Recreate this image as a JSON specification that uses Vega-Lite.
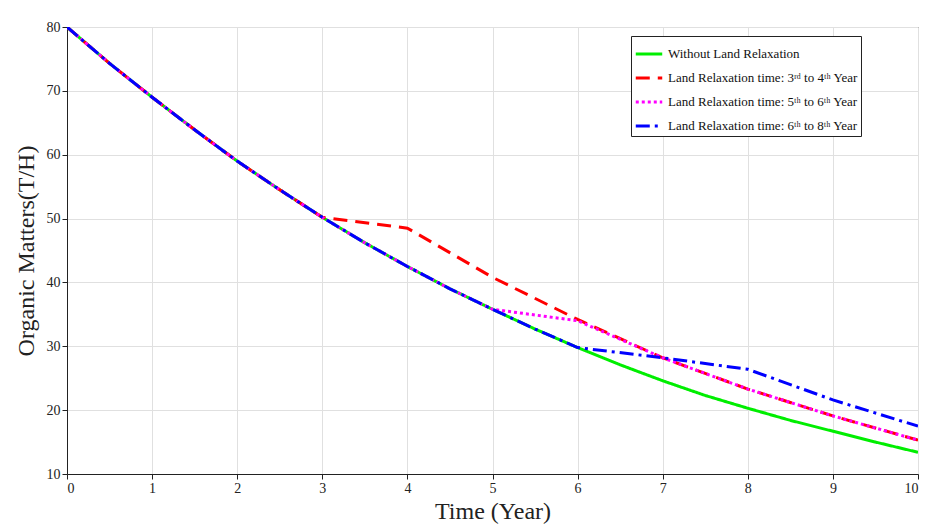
{
  "$schema": "https://vega.github.io/schema/vega-lite/v6.json",
  "width": 851,
  "height": 447,
  "autosize": {"type": "none"},
  "padding": {"left": 67, "top": 27, "right": 29, "bottom": 56},
  "background": "white",
  "config": {
    "view": {"stroke": "#222"},
    "font": "Liberation Serif",
    "axis": {"gridColor": "#e0e0e0", "domainColor": "#222", "tickColor": "#222", "labelFont": "Liberation Serif", "labelFontSize": 14, "labelColor": "#222", "titleFont": "Liberation Serif", "titleFontSize": 24, "titleFontWeight": "normal", "titleColor": "#222", "labelOverlap": false}
  },
  "data": {"values": [
    {"t": 0, "v": 80, "s": "Without Land Relaxation"},
    {"t": 0.5, "v": 74.3, "s": "Without Land Relaxation"},
    {"t": 1, "v": 69, "s": "Without Land Relaxation"},
    {"t": 1.5, "v": 63.9, "s": "Without Land Relaxation"},
    {"t": 2, "v": 59, "s": "Without Land Relaxation"},
    {"t": 2.5, "v": 54.5, "s": "Without Land Relaxation"},
    {"t": 3, "v": 50.2, "s": "Without Land Relaxation"},
    {"t": 3.5, "v": 46.2, "s": "Without Land Relaxation"},
    {"t": 4, "v": 42.5, "s": "Without Land Relaxation"},
    {"t": 4.5, "v": 39, "s": "Without Land Relaxation"},
    {"t": 5, "v": 35.8, "s": "Without Land Relaxation"},
    {"t": 5.5, "v": 32.7, "s": "Without Land Relaxation"},
    {"t": 6, "v": 29.8, "s": "Without Land Relaxation"},
    {"t": 6.5, "v": 27.1, "s": "Without Land Relaxation"},
    {"t": 7, "v": 24.6, "s": "Without Land Relaxation"},
    {"t": 7.5, "v": 22.3, "s": "Without Land Relaxation"},
    {"t": 8, "v": 20.3, "s": "Without Land Relaxation"},
    {"t": 8.5, "v": 18.4, "s": "Without Land Relaxation"},
    {"t": 9, "v": 16.7, "s": "Without Land Relaxation"},
    {"t": 9.5, "v": 15.0, "s": "Without Land Relaxation"},
    {"t": 10, "v": 13.4, "s": "Without Land Relaxation"},

    {"t": 0, "v": 80, "s": "Land Relaxation time: 3ʳᵈ to 4ᵗʰ Year"},
    {"t": 0.5, "v": 74.3, "s": "Land Relaxation time: 3ʳᵈ to 4ᵗʰ Year"},
    {"t": 1, "v": 69, "s": "Land Relaxation time: 3ʳᵈ to 4ᵗʰ Year"},
    {"t": 1.5, "v": 63.9, "s": "Land Relaxation time: 3ʳᵈ to 4ᵗʰ Year"},
    {"t": 2, "v": 59, "s": "Land Relaxation time: 3ʳᵈ to 4ᵗʰ Year"},
    {"t": 2.5, "v": 54.5, "s": "Land Relaxation time: 3ʳᵈ to 4ᵗʰ Year"},
    {"t": 3, "v": 50.2, "s": "Land Relaxation time: 3ʳᵈ to 4ᵗʰ Year"},
    {"t": 4, "v": 48.5, "s": "Land Relaxation time: 3ʳᵈ to 4ᵗʰ Year"},
    {"t": 5, "v": 40.8, "s": "Land Relaxation time: 3ʳᵈ to 4ᵗʰ Year"},
    {"t": 6, "v": 34.2, "s": "Land Relaxation time: 3ʳᵈ to 4ᵗʰ Year"},
    {"t": 7, "v": 28.2, "s": "Land Relaxation time: 3ʳᵈ to 4ᵗʰ Year"},
    {"t": 8, "v": 23.3, "s": "Land Relaxation time: 3ʳᵈ to 4ᵗʰ Year"},
    {"t": 9, "v": 19.1, "s": "Land Relaxation time: 3ʳᵈ to 4ᵗʰ Year"},
    {"t": 10, "v": 15.3, "s": "Land Relaxation time: 3ʳᵈ to 4ᵗʰ Year"},

    {"t": 0, "v": 80, "s": "Land Relaxation time: 5ᵗʰ to 6ᵗʰ Year"},
    {"t": 0.5, "v": 74.3, "s": "Land Relaxation time: 5ᵗʰ to 6ᵗʰ Year"},
    {"t": 1, "v": 69, "s": "Land Relaxation time: 5ᵗʰ to 6ᵗʰ Year"},
    {"t": 1.5, "v": 63.9, "s": "Land Relaxation time: 5ᵗʰ to 6ᵗʰ Year"},
    {"t": 2, "v": 59, "s": "Land Relaxation time: 5ᵗʰ to 6ᵗʰ Year"},
    {"t": 2.5, "v": 54.5, "s": "Land Relaxation time: 5ᵗʰ to 6ᵗʰ Year"},
    {"t": 3, "v": 50.2, "s": "Land Relaxation time: 5ᵗʰ to 6ᵗʰ Year"},
    {"t": 3.5, "v": 46.2, "s": "Land Relaxation time: 5ᵗʰ to 6ᵗʰ Year"},
    {"t": 4, "v": 42.5, "s": "Land Relaxation time: 5ᵗʰ to 6ᵗʰ Year"},
    {"t": 4.5, "v": 39, "s": "Land Relaxation time: 5ᵗʰ to 6ᵗʰ Year"},
    {"t": 5, "v": 35.8, "s": "Land Relaxation time: 5ᵗʰ to 6ᵗʰ Year"},
    {"t": 6, "v": 34.0, "s": "Land Relaxation time: 5ᵗʰ to 6ᵗʰ Year"},
    {"t": 7, "v": 28.2, "s": "Land Relaxation time: 5ᵗʰ to 6ᵗʰ Year"},
    {"t": 8, "v": 23.3, "s": "Land Relaxation time: 5ᵗʰ to 6ᵗʰ Year"},
    {"t": 9, "v": 19.1, "s": "Land Relaxation time: 5ᵗʰ to 6ᵗʰ Year"},
    {"t": 10, "v": 15.3, "s": "Land Relaxation time: 5ᵗʰ to 6ᵗʰ Year"},

    {"t": 0, "v": 80, "s": "Land Relaxation time: 6ᵗʰ to 8ᵗʰ Year"},
    {"t": 0.5, "v": 74.3, "s": "Land Relaxation time: 6ᵗʰ to 8ᵗʰ Year"},
    {"t": 1, "v": 69, "s": "Land Relaxation time: 6ᵗʰ to 8ᵗʰ Year"},
    {"t": 1.5, "v": 63.9, "s": "Land Relaxation time: 6ᵗʰ to 8ᵗʰ Year"},
    {"t": 2, "v": 59, "s": "Land Relaxation time: 6ᵗʰ to 8ᵗʰ Year"},
    {"t": 2.5, "v": 54.5, "s": "Land Relaxation time: 6ᵗʰ to 8ᵗʰ Year"},
    {"t": 3, "v": 50.2, "s": "Land Relaxation time: 6ᵗʰ to 8ᵗʰ Year"},
    {"t": 3.5, "v": 46.2, "s": "Land Relaxation time: 6ᵗʰ to 8ᵗʰ Year"},
    {"t": 4, "v": 42.5, "s": "Land Relaxation time: 6ᵗʰ to 8ᵗʰ Year"},
    {"t": 4.5, "v": 39, "s": "Land Relaxation time: 6ᵗʰ to 8ᵗʰ Year"},
    {"t": 5, "v": 35.8, "s": "Land Relaxation time: 6ᵗʰ to 8ᵗʰ Year"},
    {"t": 5.5, "v": 32.7, "s": "Land Relaxation time: 6ᵗʰ to 8ᵗʰ Year"},
    {"t": 6, "v": 29.8, "s": "Land Relaxation time: 6ᵗʰ to 8ᵗʰ Year"},
    {"t": 7, "v": 28.2, "s": "Land Relaxation time: 6ᵗʰ to 8ᵗʰ Year"},
    {"t": 8, "v": 26.4, "s": "Land Relaxation time: 6ᵗʰ to 8ᵗʰ Year"},
    {"t": 9, "v": 21.6, "s": "Land Relaxation time: 6ᵗʰ to 8ᵗʰ Year"},
    {"t": 10, "v": 17.5, "s": "Land Relaxation time: 6ᵗʰ to 8ᵗʰ Year"}
  ]},
  "mark": {"type": "line", "interpolate": "linear", "clip": true},
  "encoding": {
    "x": {"field": "t", "type": "quantitative", "title": "Time (Year)", "scale": {"domain": [0, 10], "nice": false}, "axis": {"values": [0,1,2,3,4,5,6,7,8,9,10], "titlePadding": 4}},
    "y": {"field": "v", "type": "quantitative", "title": "Organic Matters(T/H)", "scale": {"domain": [10, 80], "nice": false}, "axis": {"values": [10,20,30,40,50,60,70,80], "titlePadding": 8}},
    "order": {"field": "t", "type": "quantitative"},
    "color": {
      "field": "s", "type": "nominal", "sort": null,
      "scale": {
        "domain": ["Without Land Relaxation", "Land Relaxation time: 3ʳᵈ to 4ᵗʰ Year", "Land Relaxation time: 5ᵗʰ to 6ᵗʰ Year", "Land Relaxation time: 6ᵗʰ to 8ᵗʰ Year"],
        "range": ["#00ee00", "#ff0000", "#ff00ff", "#0000ff"]
      },
      "legend": {
        "title": null, "orient": "none", "legendX": 564, "legendY": 9,
        "labelFont": "Liberation Serif", "labelFontSize": 13, "labelColor": "#111", "labelLimit": 0,
        "symbolType": "stroke", "symbolSize": 700, "symbolStrokeWidth": 3,
        "strokeColor": "#222", "fillColor": "white", "padding": 3, "rowPadding": 2
      }
    },
    "strokeDash": {
      "field": "s", "type": "nominal", "sort": null,
      "scale": {
        "domain": ["Without Land Relaxation", "Land Relaxation time: 3ʳᵈ to 4ᵗʰ Year", "Land Relaxation time: 5ᵗʰ to 6ᵗʰ Year", "Land Relaxation time: 6ᵗʰ to 8ᵗʰ Year"],
        "range": [[1, 0], [14, 8], [3, 3], [14, 5, 3, 5]]
      },
      "legend": null
    },
    "strokeWidth": {
      "field": "s", "type": "nominal", "sort": null,
      "scale": {
        "domain": ["Without Land Relaxation", "Land Relaxation time: 3ʳᵈ to 4ᵗʰ Year", "Land Relaxation time: 5ᵗʰ to 6ᵗʰ Year", "Land Relaxation time: 6ᵗʰ to 8ᵗʰ Year"],
        "range": [3, 3, 3, 4]
      },
      "legend": null
    }
  }
}
